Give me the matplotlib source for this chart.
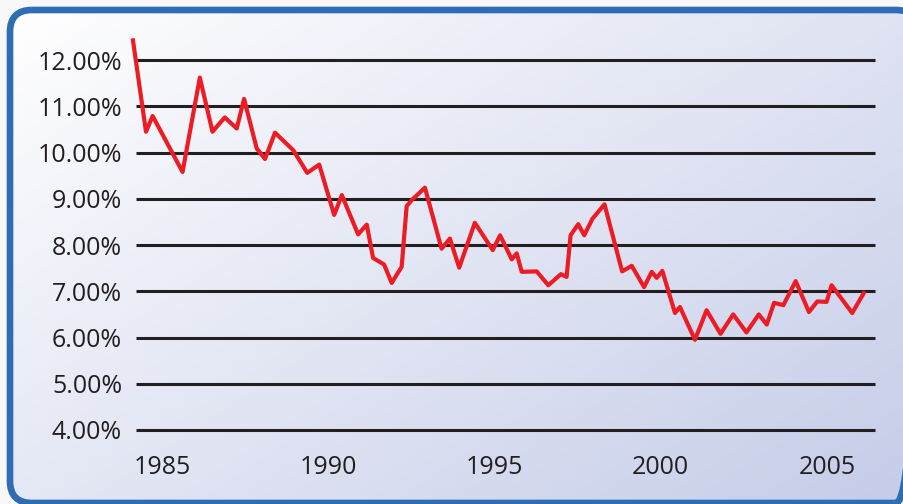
import matplotlib
matplotlib.use("Agg")
import matplotlib.pyplot as plt
import numpy as np
from matplotlib.patches import FancyBboxPatch

# year (decimal) and rate (%)
years = [1984.12, 1984.52, 1984.72, 1985.62, 1986.14, 1986.52, 1986.89, 1987.25,
         1987.47, 1987.85, 1988.10, 1988.40, 1988.95, 1989.37, 1989.73, 1990.18,
         1990.41, 1990.90, 1991.16, 1991.35, 1991.68, 1991.91, 1992.21, 1992.36,
         1992.51, 1992.91, 1993.41, 1993.66, 1993.94, 1994.41, 1994.95, 1995.17,
         1995.52, 1995.67, 1995.82, 1996.27, 1996.62, 1997.00, 1997.17, 1997.29,
         1997.52, 1997.70, 1997.95, 1998.31, 1998.84, 1999.13, 1999.50, 1999.73,
         1999.88, 2000.05, 2000.43, 2000.58, 2001.03, 2001.38, 2001.80, 2002.18,
         2002.58, 2002.95, 2003.19, 2003.41, 2003.69, 2004.06, 2004.46, 2004.71,
         2004.99, 2005.14, 2005.76, 2006.14]
rates = [12.47, 10.45, 10.79, 9.58, 11.62, 10.45, 10.76, 10.52,
         11.16, 10.09, 9.86, 10.43, 10.05, 9.56, 9.74, 8.65,
         9.08, 8.23, 8.44, 7.72, 7.58, 7.18, 7.53, 8.84,
         8.97, 9.24, 7.92, 8.14, 7.51, 8.48, 7.89, 8.21,
         7.69, 7.82, 7.42, 7.43, 7.13, 7.37, 7.31, 8.21,
         8.45, 8.21, 8.57, 8.88, 7.43, 7.55, 7.09, 7.42,
         7.29, 7.44, 6.53, 6.66, 5.95, 6.59, 6.08, 6.50,
         6.11, 6.50, 6.28, 6.75, 6.70, 7.22, 6.55, 6.78,
         6.77, 7.13, 6.53, 7.00]

y_ticks = [4, 5, 6, 7, 8, 9, 10, 11, 12]
y_labels = ["4.00%", "5.00%", "6.00%", "7.00%", "8.00%", "9.00%", "10.00%", "11.00%", "12.00%"]
x_ticks = [1985, 1990, 1995, 2000, 2005]

plt.rcParams["font.family"] = ["Open Sans", "DejaVu Sans"]
ink = "#231f20"

W, H = 904, 504
fig = plt.figure(figsize=(W / 100, H / 100), dpi=100)
fig.patch.set_facecolor("#f8f8f9")

# background panel: diagonal gradient inside a rounded blue frame
bg = fig.add_axes([0, 0, 1, 1])
bg.set_xlim(0, W)
bg.set_ylim(H, 0)
bg.axis("off")
gx, gy = np.meshgrid(np.linspace(0, 1, 300), np.linspace(0, 1, 200))
t = np.clip(0.55 * gx + 0.45 * gy, 0, 1)
c0 = np.array([1.0, 1.0, 1.0])
c1 = np.array([0.77, 0.80, 0.91])
img = c0 + (c1 - c0) * t[..., None]
im = bg.imshow(img, extent=[10, 918, 503, 10], aspect="auto", zorder=0)
frame = FancyBboxPatch((10, 10), 908, 493, boxstyle="round,pad=0,rounding_size=22",
                       facecolor="none", edgecolor="#2e6db4", linewidth=4.8, zorder=2)
bg.add_patch(frame)
im.set_clip_path(frame)

ax = fig.add_axes([0.1442, 0.1239, 0.8294, 0.812])
ax.patch.set_alpha(0)
ax.set_xlim(1984.05, 2006.6)
ax.set_ylim(3.75, 12.6)
ax.hlines(y_ticks, 1984.22, 2006.44, color=ink, linewidth=2.2, zorder=1)
ax.plot(years, rates, color="#ed1c24", linewidth=3.0, solid_joinstyle="round",
        solid_capstyle="butt", zorder=2)

ax.set_yticks(y_ticks)
ax.set_yticklabels(y_labels)
ax.set_xticks(x_ticks)
ax.set_xticklabels([str(x) for x in x_ticks])
ax.tick_params(axis="both", length=0, labelsize=18, labelcolor=ink)
ax.tick_params(axis="y", pad=6)
ax.tick_params(axis="x", pad=10)
for s in ax.spines.values():
    s.set_visible(False)

fig.savefig("out.png", dpi=100, facecolor=fig.get_facecolor())
